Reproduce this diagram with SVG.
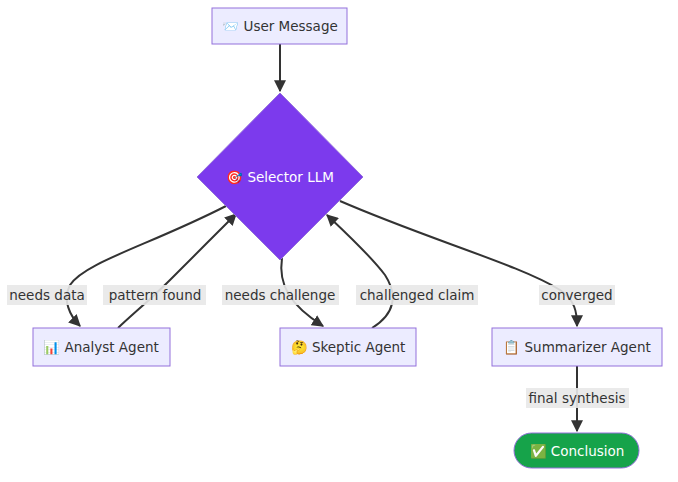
<svg xmlns="http://www.w3.org/2000/svg" width="678" height="482" viewBox="0 0 678 482">
<style>
.n{fill:#ECECFF;stroke:#9370DB;stroke-width:1}
.t{font-family:"DejaVu Sans","Liberation Sans",sans-serif;font-size:13.5px;fill:#333;text-anchor:middle;dominant-baseline:central}
.e{fill:none;stroke:#333;stroke-width:2}
.lb{fill:#e8e8e8;opacity:0.9}
</style>
<defs><marker id="a" viewBox="0 0 10 10" refX="9" refY="5" markerWidth="6" markerHeight="6" orient="auto"><path d="M0,0L10,5L0,10z" fill="#333"/></marker></defs>
<rect width="678" height="482" fill="#fff"/>
<g id="edges">
<path class="e" marker-end="url(#a)" d="M280,44L280,91"/>
<path class="e" marker-end="url(#a)" d="M226,206C150,245 85,262 70,285 C62,300 70,316 80,326"/>
<path class="e" marker-end="url(#a)" d="M118,328C135,312 150,300 170,280 C190,260 215,235 236,214"/>
<path class="e" marker-end="url(#a)" d="M282,258C278,285 290,305 323,326"/>
<path class="e" marker-end="url(#a)" d="M372,328C395,314 398,295 385,275 C370,255 345,232 327,215"/>
<path class="e" marker-end="url(#a)" d="M340,201C430,240 520,265 560,290 C575,300 577,312 577,326"/>
<path class="e" marker-end="url(#a)" d="M577,366L577,431"/>
</g>
<g id="labels">
<rect class="lb" x="7" y="285" width="80" height="20"/><text class="t" x="47" y="295">needs data</text>
<rect class="lb" x="103" y="285" width="103" height="20"/><text class="t" x="155" y="295">pattern found</text>
<rect class="lb" x="222" y="285" width="117" height="20"/><text class="t" x="280" y="295">needs challenge</text>
<rect class="lb" x="356" y="285" width="122" height="20"/><text class="t" x="417" y="295">challenged claim</text>
<rect class="lb" x="539" y="285" width="76" height="20"/><text class="t" x="577" y="295">converged</text>
<rect class="lb" x="526" y="388" width="103" height="20"/><text class="t" x="577" y="398">final synthesis</text>
</g>
<g id="user"><rect class="n" x="212" y="8" width="135" height="36"/><text class="t" x="280" y="26">📨 User Message</text></g>
<g id="selector"><path d="M280,93L363,177L280,260L197,177z" fill="#7C3AED" stroke="#9370DB"/><text class="t" x="280" y="177" style="fill:#fff">🎯 Selector LLM</text></g>
<g id="analyst"><rect class="n" x="33" y="328" width="137" height="38"/><text class="t" x="101" y="347">📊 Analyst Agent</text></g>
<g id="skeptic"><rect class="n" x="280" y="328" width="136" height="38"/><text class="t" x="348" y="347">🤔 Skeptic Agent</text></g>
<g id="summarizer"><rect class="n" x="492" y="328" width="170" height="38"/><text class="t" x="577" y="347">📋 Summarizer Agent</text></g>
<g id="conclusion"><rect x="514" y="433" width="125" height="35" rx="17.5" fill="#16A34A" stroke="#9370DB"/><text class="t" x="577" y="451" style="fill:#fff">✅ Conclusion</text></g>
</svg>
